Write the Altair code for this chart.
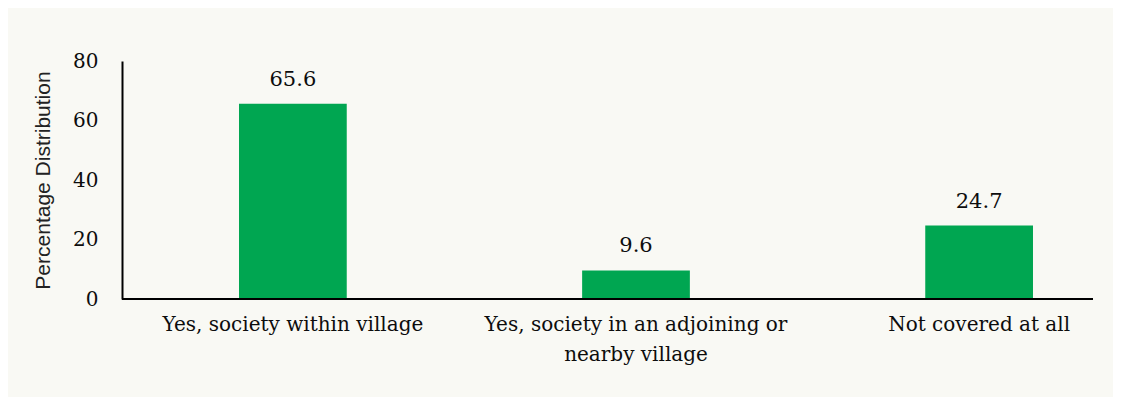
import altair as alt
import pandas as pd

categories = [
    "Yes, society within village",
    "Yes, society in an adjoining or\nnearby village",
    "Not covered at all",
]
values = [65.6, 9.6, 24.7]
y_ticks = [0, 20, 40, 60, 80]

df = pd.DataFrame({"category": categories, "value": values})

SERIF = "DejaVu Serif"
SANS = "Liberation Sans"

xscale = alt.Scale(domain=categories, range=[0, 1028], paddingInner=0.686, paddingOuter=0.341)
yscale = alt.Scale(domain=[0, 80])

base = alt.Chart(df)

bars = base.mark_bar(color="#00A651").encode(
    x=alt.X("category:N", scale=xscale, sort=categories,
            axis=alt.Axis(title=None, domain=False, ticks=False, labelAngle=0,
                          labelFont=SERIF, labelFontSize=20, labelColor="#0d0d0d",
                          labelPadding=15, labelLineHeight=30, labelBaseline="top",
                          labelExpr="split(datum.label, '\\n')", labelLimit=400)),
    y=alt.Y("value:Q", scale=yscale,
            axis=alt.Axis(title="Percentage Distribution", values=y_ticks, grid=False,
                          ticks=False, domain=True, domainColor="#000000", domainWidth=2,
                          labelFont=SERIF, labelFontSize=20, labelColor="#0d0d0d",
                          labelPadding=24, titleFont=SANS, titleFontSize=21,
                          titleFontWeight="normal", titleColor="#222222", titlePadding=19)),
)

labels = base.mark_text(font=SERIF, fontSize=21, color="#0d0d0d", baseline="middle", dy=-24).encode(
    x=alt.X("category:N", scale=xscale, sort=categories),
    y=alt.Y("value:Q", scale=yscale),
    text=alt.Text("value:Q", format=".1f"),
)

baseline = base.mark_rule(color="#000000", strokeWidth=2).encode(
    x=alt.value(0), x2=alt.value(971), y=alt.value(238),
)

chart = alt.layer(bars, labels, baseline).properties(
    width=971, height=238,
    autosize=alt.AutoSizeParams(type="none"),
    padding={"left": 114, "top": 53, "right": 20, "bottom": 98},
    background="#F9F9F4",
).configure_view(stroke=None)

chart.save("out.html", embed_options={"renderer": "svg", "actions": False})
